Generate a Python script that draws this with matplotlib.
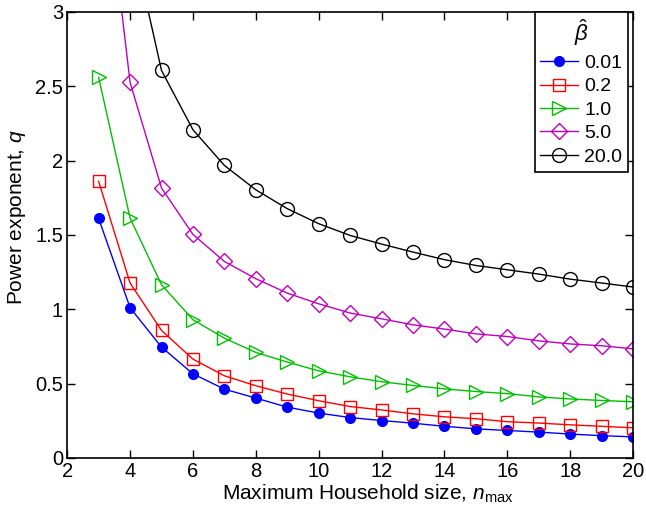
import matplotlib
matplotlib.use('Agg')
from matplotlib import pyplot as plt

plt.rcParams['font.family'] = ['Liberation Sans', 'DejaVu Sans']
plt.rcParams['mathtext.fontset'] = 'custom'
plt.rcParams['mathtext.rm'] = 'Liberation Sans'
plt.rcParams['mathtext.it'] = 'Liberation Sans:italic'

# household size n_max
n = [3, 4, 5, 6, 7, 8, 9, 10, 11, 12, 13, 14, 15, 16, 17, 18, 19, 20]

# power exponent q for each beta-hat
q_001 = [1.61, 1.01, 0.745, 0.565, 0.462, 0.402, 0.341, 0.301, 0.271, 0.251,
         0.233, 0.212, 0.195, 0.184, 0.173, 0.16, 0.149, 0.141]
q_02 = [1.86, 1.176, 0.857, 0.664, 0.552, 0.485, 0.429, 0.384, 0.345, 0.322,
        0.296, 0.276, 0.263, 0.243, 0.234, 0.222, 0.212, 0.202]
q_1 = [2.56, 1.613, 1.164, 0.929, 0.805, 0.709, 0.644, 0.585, 0.545, 0.512,
       0.487, 0.464, 0.446, 0.432, 0.41, 0.396, 0.386, 0.377]
q_5 = [4.33, 2.526, 1.815, 1.503, 1.321, 1.205, 1.108, 1.036, 0.974, 0.935,
       0.895, 0.866, 0.834, 0.816, 0.787, 0.766, 0.754, 0.733]
q_20 = [5.6, 3.55, 2.606, 2.207, 1.967, 1.803, 1.676, 1.575, 1.496, 1.438,
        1.384, 1.333, 1.294, 1.265, 1.236, 1.202, 1.176, 1.149]

labels = ['0.01', '0.2', '1.0', '5.0', '20.0']

fig = plt.figure(figsize=(6.46, 5.15), dpi=100)
ax = fig.add_axes([0.104, 0.111, 0.876, 0.866])

ax.plot(n, q_001, '-o', color='blue', markerfacecolor='blue', markersize=7, linewidth=1, label=labels[0])
ax.plot(n, q_02, '-s', color='red', markerfacecolor='none', markersize=8, linewidth=1, label=labels[1])
ax.plot(n, q_1, '->', color='#00c000', markerfacecolor='none', markersize=10, linewidth=1, label=labels[2])
ax.plot(n, q_5, '-D', color='#bf00bf', markerfacecolor='none', markersize=8, linewidth=1, label=labels[3])
ax.plot(n, q_20, '-o', color='black', markerfacecolor='none', markersize=10, linewidth=1, label=labels[4])

ax.set_xlim(2, 20)
ax.set_ylim(0, 3)
ax.set_xticks(range(2, 21, 2))
ax.set_yticks([0, 0.5, 1, 1.5, 2, 2.5, 3])
ax.set_yticklabels(['0', '0.5', '1', '1.5', '2', '2.5', '3'])
ax.tick_params(direction='in', top=True, right=True, labelsize=14.5, length=6, width=1, pad=3)
for s in ax.spines.values():
    s.set_linewidth(1.2)

ax.set_xlabel(r'Maximum Household size, $n_{\mathrm{max}}$', fontsize=15, labelpad=1)
ax.set_ylabel(r'Power exponent, $q$', fontsize=15, labelpad=5)
# the labels sit a bit off-centre in the original
ax.xaxis.label.set_x(0.532)
ax.yaxis.label.set_y(0.539)

leg = ax.legend(title=r'$\hat{\beta}$', loc='upper right', bbox_to_anchor=(0.991, 1.0),
                fontsize=14, title_fontsize=16, fancybox=False, framealpha=1,
                edgecolor='black', borderaxespad=0, handlelength=1.95,
                handletextpad=0.3, borderpad=0.3, labelspacing=0.3)
leg.get_frame().set_linewidth(1.2)

fig.savefig('out.png', dpi=100)
